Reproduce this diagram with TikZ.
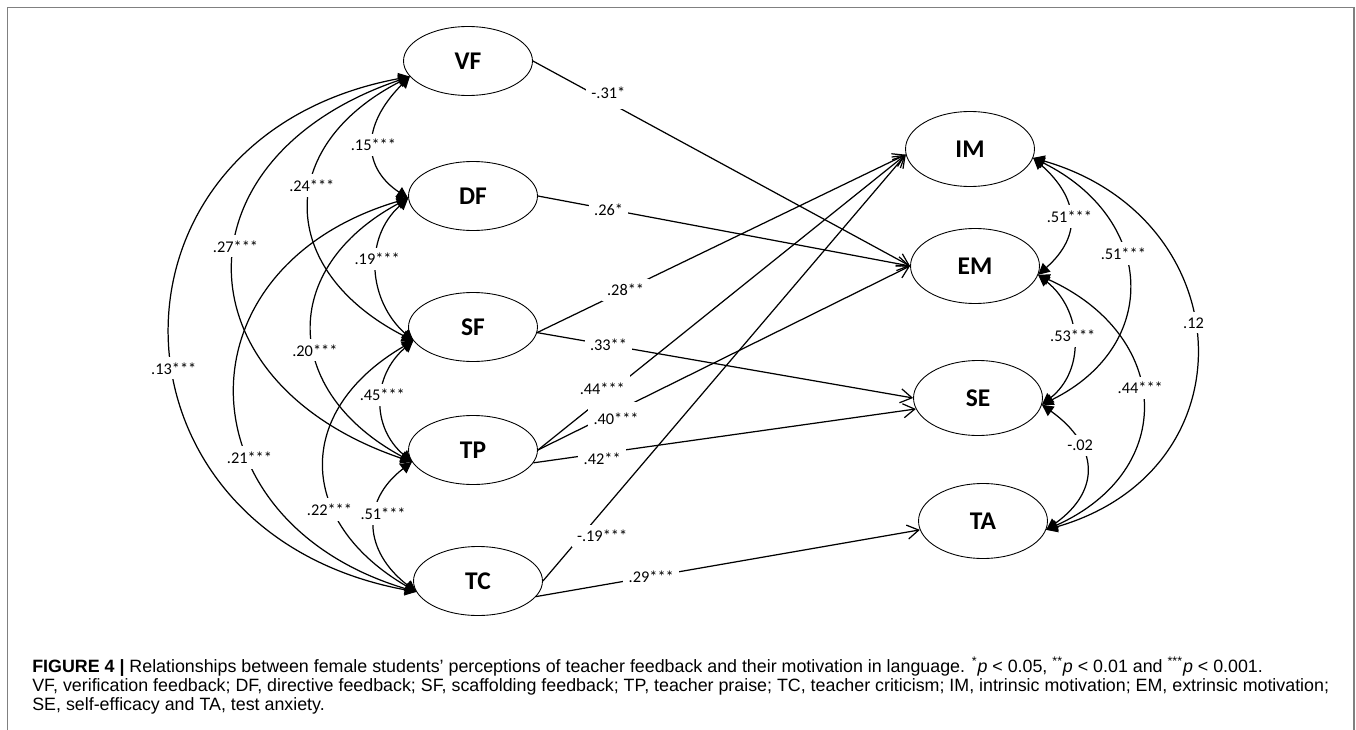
\documentclass[tikz,border=0pt]{standalone}
\usepackage{fontspec}
\setmainfont{Liberation Sans}
\newfontfamily\calibri{Carlito}
\usetikzlibrary{shapes.geometric,arrows.meta}

\tikzset{
  latent/.style={draw, ellipse, line width=0.5pt, minimum width=2.58cm, minimum height=1.38cm,
    inner sep=0pt, font=\calibri\bfseries\fontsize{14.5}{16}\selectfont},
  endo/.style={latent, minimum height=1.5cm},
  regr/.style={line width=0.7pt, -{Straight Barb[length=6.5pt,width=8pt]}},
  covar/.style={line width=0.7pt, {Triangle[length=6.5pt,width=6.5pt]}-{Triangle[length=6.5pt,width=6.5pt]}},
  coef/.style={fill=white, inner sep=3pt, font=\calibri\fontsize{9.3}{11}\selectfont},
  captext/.style={anchor=base west, inner sep=0pt, font=\fontsize{10.15}{12}\selectfont}
}

\begin{document}
\begin{tikzpicture}[x=0.02cm, y=-0.02cm]
\useasboundingbox (0,0) rectangle (1356,730);
% frame
\draw[gray, line width=1pt] (7.5,730) -- (7.5,7.5) -- (1354,7.5) -- (1354,730);

% feedback
\node[latent] (VF) at (468,61) {VF};
\node[latent] (DF) at (473,196) {DF};
\node[latent] (SF) at (473,327) {SF};
\node[latent] (TP) at (473,450) {TP};
\node[latent] (TC) at (478,581) {TC};
% motivation
\node[endo] (IM) at (970,149) {IM};
\node[endo] (EM) at (975,266) {EM};
\node[endo] (SE) at (978,398) {SE};
\node[endo] (TA) at (983,521) {TA};

% covariances, left
\draw[covar] (VF.195) .. controls +(-50,50) and +(-45,-30) .. (DF.182) node[coef,pos=.5] {.15***};
\draw[covar] (VF.195) .. controls +(-136,70) and +(-136,-70) .. (SF.193) node[coef,pos=.42] {.24***};
\draw[covar] (VF.195) .. controls +(-236,80) and +(-236,-80) .. (TP.191) node[coef,pos=.45] {.27***};
\draw[covar] (VF.195) .. controls +(-323,60) and +(-323,-60) .. (TC.190) node[coef,pos=.55] {.13***};
\draw[covar] (DF.182) .. controls +(-45,40) and +(-45,-40) .. (SF.193) node[coef,pos=.43] {.19***};
\draw[covar] (DF.182) .. controls +(-130,70) and +(-130,-70) .. (TP.191) node[coef,pos=.57] {.20***};
\draw[covar] (DF.182) .. controls +(-235,70) and +(-235,-70) .. (TC.190) node[coef,pos=.63] {.21***};
\draw[covar] (SF.193) .. controls +(-41,35) and +(-41,-35) .. (TP.191) node[coef,pos=.45] {.45***};
\draw[covar] (SF.193) .. controls +(-120,70) and +(-120,-70) .. (TC.190) node[coef,pos=.66,xshift=-3pt] {.22***};
\draw[covar] (TP.191) .. controls +(-52,40) and +(-52,-40) .. (TC.190) node[coef,pos=.4,xshift=4pt] {.51***};

% covariances, right
\draw[covar] (IM.352) .. controls +(45,40) and +(45,-40) .. (EM.352) node[coef,pos=.5] {.51***};
\draw[covar] (IM.352) .. controls +(121,60) and +(121,-60) .. (SE.354) node[coef,pos=.4] {.51***};
\draw[covar] (IM.352) .. controls +(208,60) and +(208,-60) .. (TA.352) node[coef,pos=.455] {.12};
\draw[covar] (EM.352) .. controls +(44,35) and +(44,-35) .. (SE.354) node[coef,pos=.47] {.53***};
\draw[covar] (EM.352) .. controls +(133,60) and +(133,-60) .. (TA.352) node[coef,pos=.45] {.44***};
\draw[covar] (SE.354) .. controls +(56,40) and +(56,-40) .. (TA.352) node[coef,pos=.33] {-.02};

% paths
\draw[regr] (VF.east) -- node[coef,pos=.2,yshift=5.5pt,inner ysep=6pt] {-.31*} (EM.west);
\draw[regr] (DF.east) -- node[coef,pos=.19] {.26*} (EM.west);
\draw[regr] (SF.355) -- node[coef,pos=.24] {.28**} (IM.185);
\draw[regr] (SF.355) -- node[coef,pos=.19] {.33**} (SE.west);
\draw[regr] (TP.east) -- node[coef,pos=.175,yshift=5.5pt,inner ysep=6pt] {.44***} (IM.185);
\draw[regr] (TP.east) -- node[coef,pos=.21,yshift=-4pt,inner ysep=6pt] {.40***} (EM.west);
\draw[regr] (TP.348) -- node[coef,pos=.18,yshift=-3pt] {.42**} (SE.190);
\draw[regr] (TC.east) -- node[coef,pos=.105,xshift=12pt] {-.19***} (IM.185);
\draw[regr] (TC.345) -- node[coef,pos=.3] {.29***} (TA.188);

% caption
\node[captext] (cap1) at (32,672) {\textbf{FIGURE 4} \textbf{|} Relationships between female students' perceptions of teacher feedback and their motivation in language. \textsuperscript{*}\textit{p} < 0.05, \textsuperscript{**}\textit{p} < 0.01 and \textsuperscript{***}\textit{p} < 0.001.};
\node[captext] (cap2) at (32,691) {VF, verification feedback; DF, directive feedback; SF, scaffolding feedback; TP, teacher praise; TC, teacher criticism; IM, intrinsic motivation; EM, extrinsic motivation;};
\node[captext] (cap3) at (32,710) {SE, self-efficacy and TA, test anxiety.};
\end{tikzpicture}
\end{document}
